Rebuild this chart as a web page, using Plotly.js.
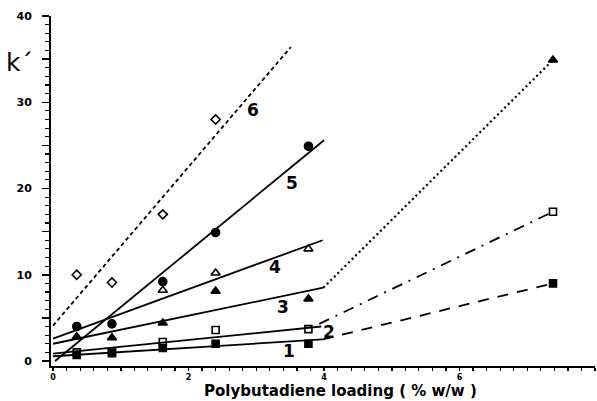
<!DOCTYPE html>
<html>
<head>
<meta charset="utf-8">
<script src="https://cdn.plot.ly/plotly-3.0.1.min.js"></script>
<style>
  html, body { margin: 0; padding: 0; background: #fff; }
  #chart { width: 597px; height: 401px; }
</style>
</head>
<body>
<div id="chart"></div>
<script>
// Capacity factor k' against polybutadiene loading for six solutes.
const loadingAll = [0.35, 0.87, 1.62, 2.40, 3.77, 7.38];

const k1 = [0.7, 0.9, 1.5, 2.0, 2.0, 9.0];      // filled squares
const k2 = [1.0, 1.1, 2.2, 3.6, 3.7, 17.3];     // open squares
const k3 = [2.8, 2.7, 4.4, 8.1, 7.2, 34.9];     // filled triangles
const loading4 = [1.62, 2.40, 3.77];
const k4 = [8.2, 10.2, 13.0];                   // open triangles
const loading5 = [0.35, 0.87, 1.62, 2.40, 3.77];
const k5 = [4.0, 4.3, 9.2, 14.9, 24.9];         // filled circles
const loading6 = [0.35, 0.87, 1.62, 2.40];
const k6 = [10.0, 9.1, 17.0, 28.0];             // open diamonds

// Fitted lines over the low-loading range (start / end points)
const fit1x = [0, 3.98], fit1y = [0.55, 2.5];
const fit2x = [0, 3.96], fit2y = [0.85, 4.0];
const fit3x = [0, 3.99], fit3y = [2.0, 8.5];
const fit4x = [0, 3.98], fit4y = [2.6, 14.0];
const fit5x = [0.03, 4.0], fit5y = [0, 25.6];
const fit6x = [0, 3.51], fit6y = [4.1, 36.4];

// Extensions to the highest loading
const ext1x = [3.98, 7.38], ext1y = [2.5, 9.0];
const ext2x = [3.93, 7.38], ext2y = [4.3, 17.3];
const ext3x = [3.99, 7.38], ext3y = [8.5, 34.9];

// Curve number labels
const labelText = ['1', '2', '3', '4', '5', '6'];
const labelX = [3.48, 4.08, 3.39, 3.28, 3.53, 2.95];
const labelY = [1.2, 3.4, 6.3, 10.9, 20.6, 29.1];

const xTickVals = [0, 1, 2, 3, 4, 5, 6, 7, 8];
const xTickText = ['0', '', '2', '', '4', '', '6', '', '8'];
const yTickVals = [0, 5, 10, 15, 20, 25, 30, 35, 40];
const yTickText = ['0', '', '10', '', '20', '', '30', '', '40'];

const ink = '#000';

function line(x, y, dash, width) {
  return { x: x, y: y, type: 'scatter', mode: 'lines',
           line: { color: ink, width: width || 1.8, dash: dash || 'solid' },
           hoverinfo: 'skip', showlegend: false };
}
function pts(x, y, symbol, size) {
  return { x: x, y: y, type: 'scatter', mode: 'markers',
           marker: { symbol: symbol, size: size || 7, color: ink,
                     line: { color: ink, width: 1.6 } },
           showlegend: false };
}

const traces = [
  line(fit1x, fit1y), line(fit2x, fit2y), line(fit3x, fit3y),
  line(fit4x, fit4y), line(fit5x, fit5y),
  line(fit6x, fit6y, '4px,3px', 1.8),
  line(ext1x, ext1y, '11px,9px', 1.8),
  line(ext2x, ext2y, '11px,7px,2px,7px', 1.8),
  line(ext3x, ext3y, '2px,3px', 2.2),
  pts(loadingAll, k1, 'square', 7),
  pts(loadingAll, k2, 'square-open', 7),
  pts(loadingAll, k3, 'triangle-up', 8),
  pts(loading4, k4, 'triangle-up-open', 8),
  pts(loading5, k5, 'circle', 8),
  pts(loading6, k6, 'diamond-open', 7)
];

const xTickFont = { family: 'DejaVu Sans', size: 8, color: ink, weight: 'bold' };
const yTickFont = { family: 'DejaVu Sans', size: 11, color: ink, weight: 'bold' };

const annotations = labelText.map((t, i) => ({
  x: labelX[i], y: labelY[i], xref: 'x', yref: 'y', text: t, showarrow: false,
  font: { family: 'DejaVu Sans', size: 17, color: ink, weight: 'bold' }
}));
annotations.push({
  xref: 'paper', yref: 'paper', x: 0.533, y: -0.1, xanchor: 'center', yanchor: 'bottom',
  text: 'Polybutadiene loading ( % w/w )', showarrow: false, borderpad: 0,
  font: { family: 'DejaVu Sans', size: 15, color: ink, weight: 'bold' }
});
annotations.push({
  xref: 'paper', yref: 'paper', x: -0.058, y: 0.866, xanchor: 'center', yanchor: 'middle',
  text: 'k\u00b4', showarrow: false,
  font: { family: 'DejaVu Sans', size: 25, color: ink }
});

const layout = {
  width: 597, height: 401,
  margin: { l: 51, r: 2, t: 16, b: 35 },
  paper_bgcolor: '#fff', plot_bgcolor: '#fff',
  showlegend: false,
  xaxis: {
    range: [-0.03, 8.0], showgrid: false, zeroline: false,
    showline: true, linecolor: ink, linewidth: 2,
    tickmode: 'array', tickvals: xTickVals, ticktext: xTickText,
    ticks: 'outside', ticklen: 3, tickwidth: 1.5, tickcolor: ink,
    tickfont: xTickFont, ticklabelstandoff: -1,
    minor: { dtick: 0.2, ticks: 'outside', ticklen: 3, tickwidth: 1.2, tickcolor: ink, showgrid: false }
  },
  yaxis: {
    range: [-0.58, 40], showgrid: false, zeroline: false,
    showline: true, linecolor: ink, linewidth: 2,
    tickmode: 'array', tickvals: yTickVals, ticktext: yTickText,
    ticks: 'outside', ticklen: 7, tickwidth: 1.5, tickcolor: ink,
    tickfont: yTickFont, ticklabelstandoff: 8,
    minor: { dtick: 1, ticks: 'outside', ticklen: 4, tickwidth: 1.2, tickcolor: ink, showgrid: false }
  },
  annotations: annotations
};

Plotly.newPlot('chart', traces, layout, { staticPlot: true, displayModeBar: false });
</script>
</body>
</html>
